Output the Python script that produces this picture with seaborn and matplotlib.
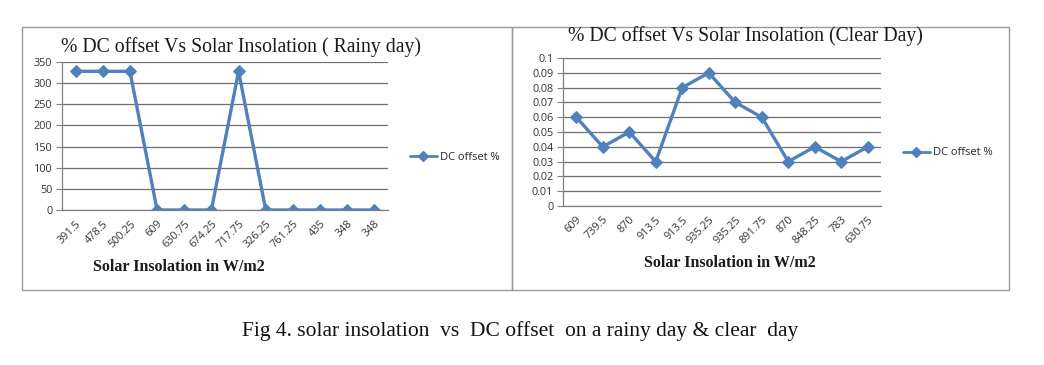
import matplotlib
matplotlib.use("Agg")
import matplotlib.pyplot as plt
import pandas as pd
import seaborn as sns
from matplotlib.patches import Rectangle
from matplotlib.lines import Line2D
from matplotlib.ticker import FixedLocator, MultipleLocator

# Data
rainy_insolation = ["391.5", "478.5", "500.25", "609", "630.75", "674.25",
                    "717.75", "326.25", "761.25", "435", "348", "348"]
rainy_offset = [328, 328, 328, 0, 0, 0, 328, 0, 0, 0, 0, 0]

clear_insolation = ["609", "739.5", "870", "913.5", "913.5", "935.25",
                    "935.25", "891.75", "870", "848.25", "783", "630.75"]
clear_offset = [0.06, 0.04, 0.05, 0.03, 0.08, 0.09,
                0.07, 0.06, 0.03, 0.04, 0.03, 0.04]

line_color = "#4F81BD"
serif = "Liberation Serif"
sans = "Open Sans"

sns.set_style("white")
plt.rcParams["font.family"] = [sans, "DejaVu Sans"]

W, H = 1044, 365
fig = plt.figure(figsize=(W / 100, H / 100), dpi=100)


def px(x0, y0, x1, y1):
    # pixel box (top-left origin) -> figure fraction rect
    return [x0 / W, 1 - y1 / H, (x1 - x0) / W, (y1 - y0) / H]


# chart frames
for (x0, y0, x1, y1) in [(22, 27, 512, 290), (512, 27, 1009, 290)]:
    fig.patches.append(Rectangle((x0 / W, 1 - y1 / H), (x1 - x0) / W, (y1 - y0) / H,
                                 transform=fig.transFigure, fill=False,
                                 edgecolor="#9a9a9a", linewidth=1.0))


def draw_panel(rect, labels, values, ymax, ystep, title, title_xy, xlabel_xy, legend_xy, fmt):
    ax = fig.add_axes(px(*rect))
    df = pd.DataFrame({"pos": range(len(values)), "value": values})
    sns.lineplot(data=df, x="pos", y="value", ax=ax, color=line_color, linewidth=2.4,
                 marker="D", markersize=6, markeredgecolor=line_color)
    ax.set_xlim(-0.5, len(values) - 0.5)
    ax.set_ylim(0, ymax)
    ax.yaxis.set_major_locator(MultipleLocator(ystep))
    ax.set_yticklabels([fmt(v) for v in ax.get_yticks()])
    ax.set_xticks(range(len(values)))
    ax.set_xticklabels(labels, rotation=45, ha="right", rotation_mode="anchor")
    ax.xaxis.set_minor_locator(FixedLocator([i - 0.5 for i in range(len(values) + 1)]))
    ax.tick_params(axis="x", which="major", length=0, pad=6, labelsize=7.8, labelcolor="#333333")
    ax.tick_params(axis="x", which="minor", length=4, color="#808080", direction="out")
    ax.tick_params(axis="y", length=4, color="#808080", labelsize=7.8, pad=3, left=True,
                   labelcolor="#333333")
    ax.grid(axis="y", color="#6e6e6e", linewidth=0.9)
    ax.set_axisbelow(True)
    for s in ["top", "right"]:
        ax.spines[s].set_visible(False)
    for s in ["left", "bottom"]:
        ax.spines[s].set_color("#808080")
        ax.spines[s].set_linewidth(0.9)
    ax.set_xlabel("")
    ax.set_ylabel("")
    fig.text(title_xy[0] / W, 1 - title_xy[1] / H, title, family=serif,
             fontsize=14.2, ha="center", va="center", color="#1a1a1a")
    fig.text(xlabel_xy[0] / W, 1 - xlabel_xy[1] / H, "Solar Insolation in W/m2", family=serif,
             fontsize=11.5, fontweight="bold", ha="center", va="center", color="#1a1a1a")
    handle = Line2D([], [], color=line_color, linewidth=2, marker="D", markersize=5)
    fig.legend([handle], ["DC offset %"], loc="center left",
               bbox_to_anchor=(legend_xy[0] / W, 1 - legend_xy[1] / H),
               frameon=False, fontsize=8, handlelength=2.4, handletextpad=0.3,
               borderaxespad=0, borderpad=0)
    return ax


draw_panel((62, 62, 388, 210), rainy_insolation, rainy_offset, 350, 50,
           "% DC offset Vs Solar Insolation ( Rainy day)", (241, 47), (179, 267), (410, 157),
           lambda v: f"{int(v)}")
draw_panel((563, 58, 881, 206), clear_insolation, clear_offset, 0.1, 0.01,
           "% DC offset Vs Solar Insolation (Clear Day)", (745, 36), (730, 263), (903, 153),
           lambda v: "0" if abs(v) < 1e-9 else f"{v:.2f}".rstrip("0"))

fig.text(520 / W, 1 - 331 / H, "Fig 4. solar insolation  vs  DC offset  on a rainy day & clear  day",
         family=serif, fontsize=15.5, ha="center", va="center", color="#111111")

fig.savefig("out.png", dpi=100)
